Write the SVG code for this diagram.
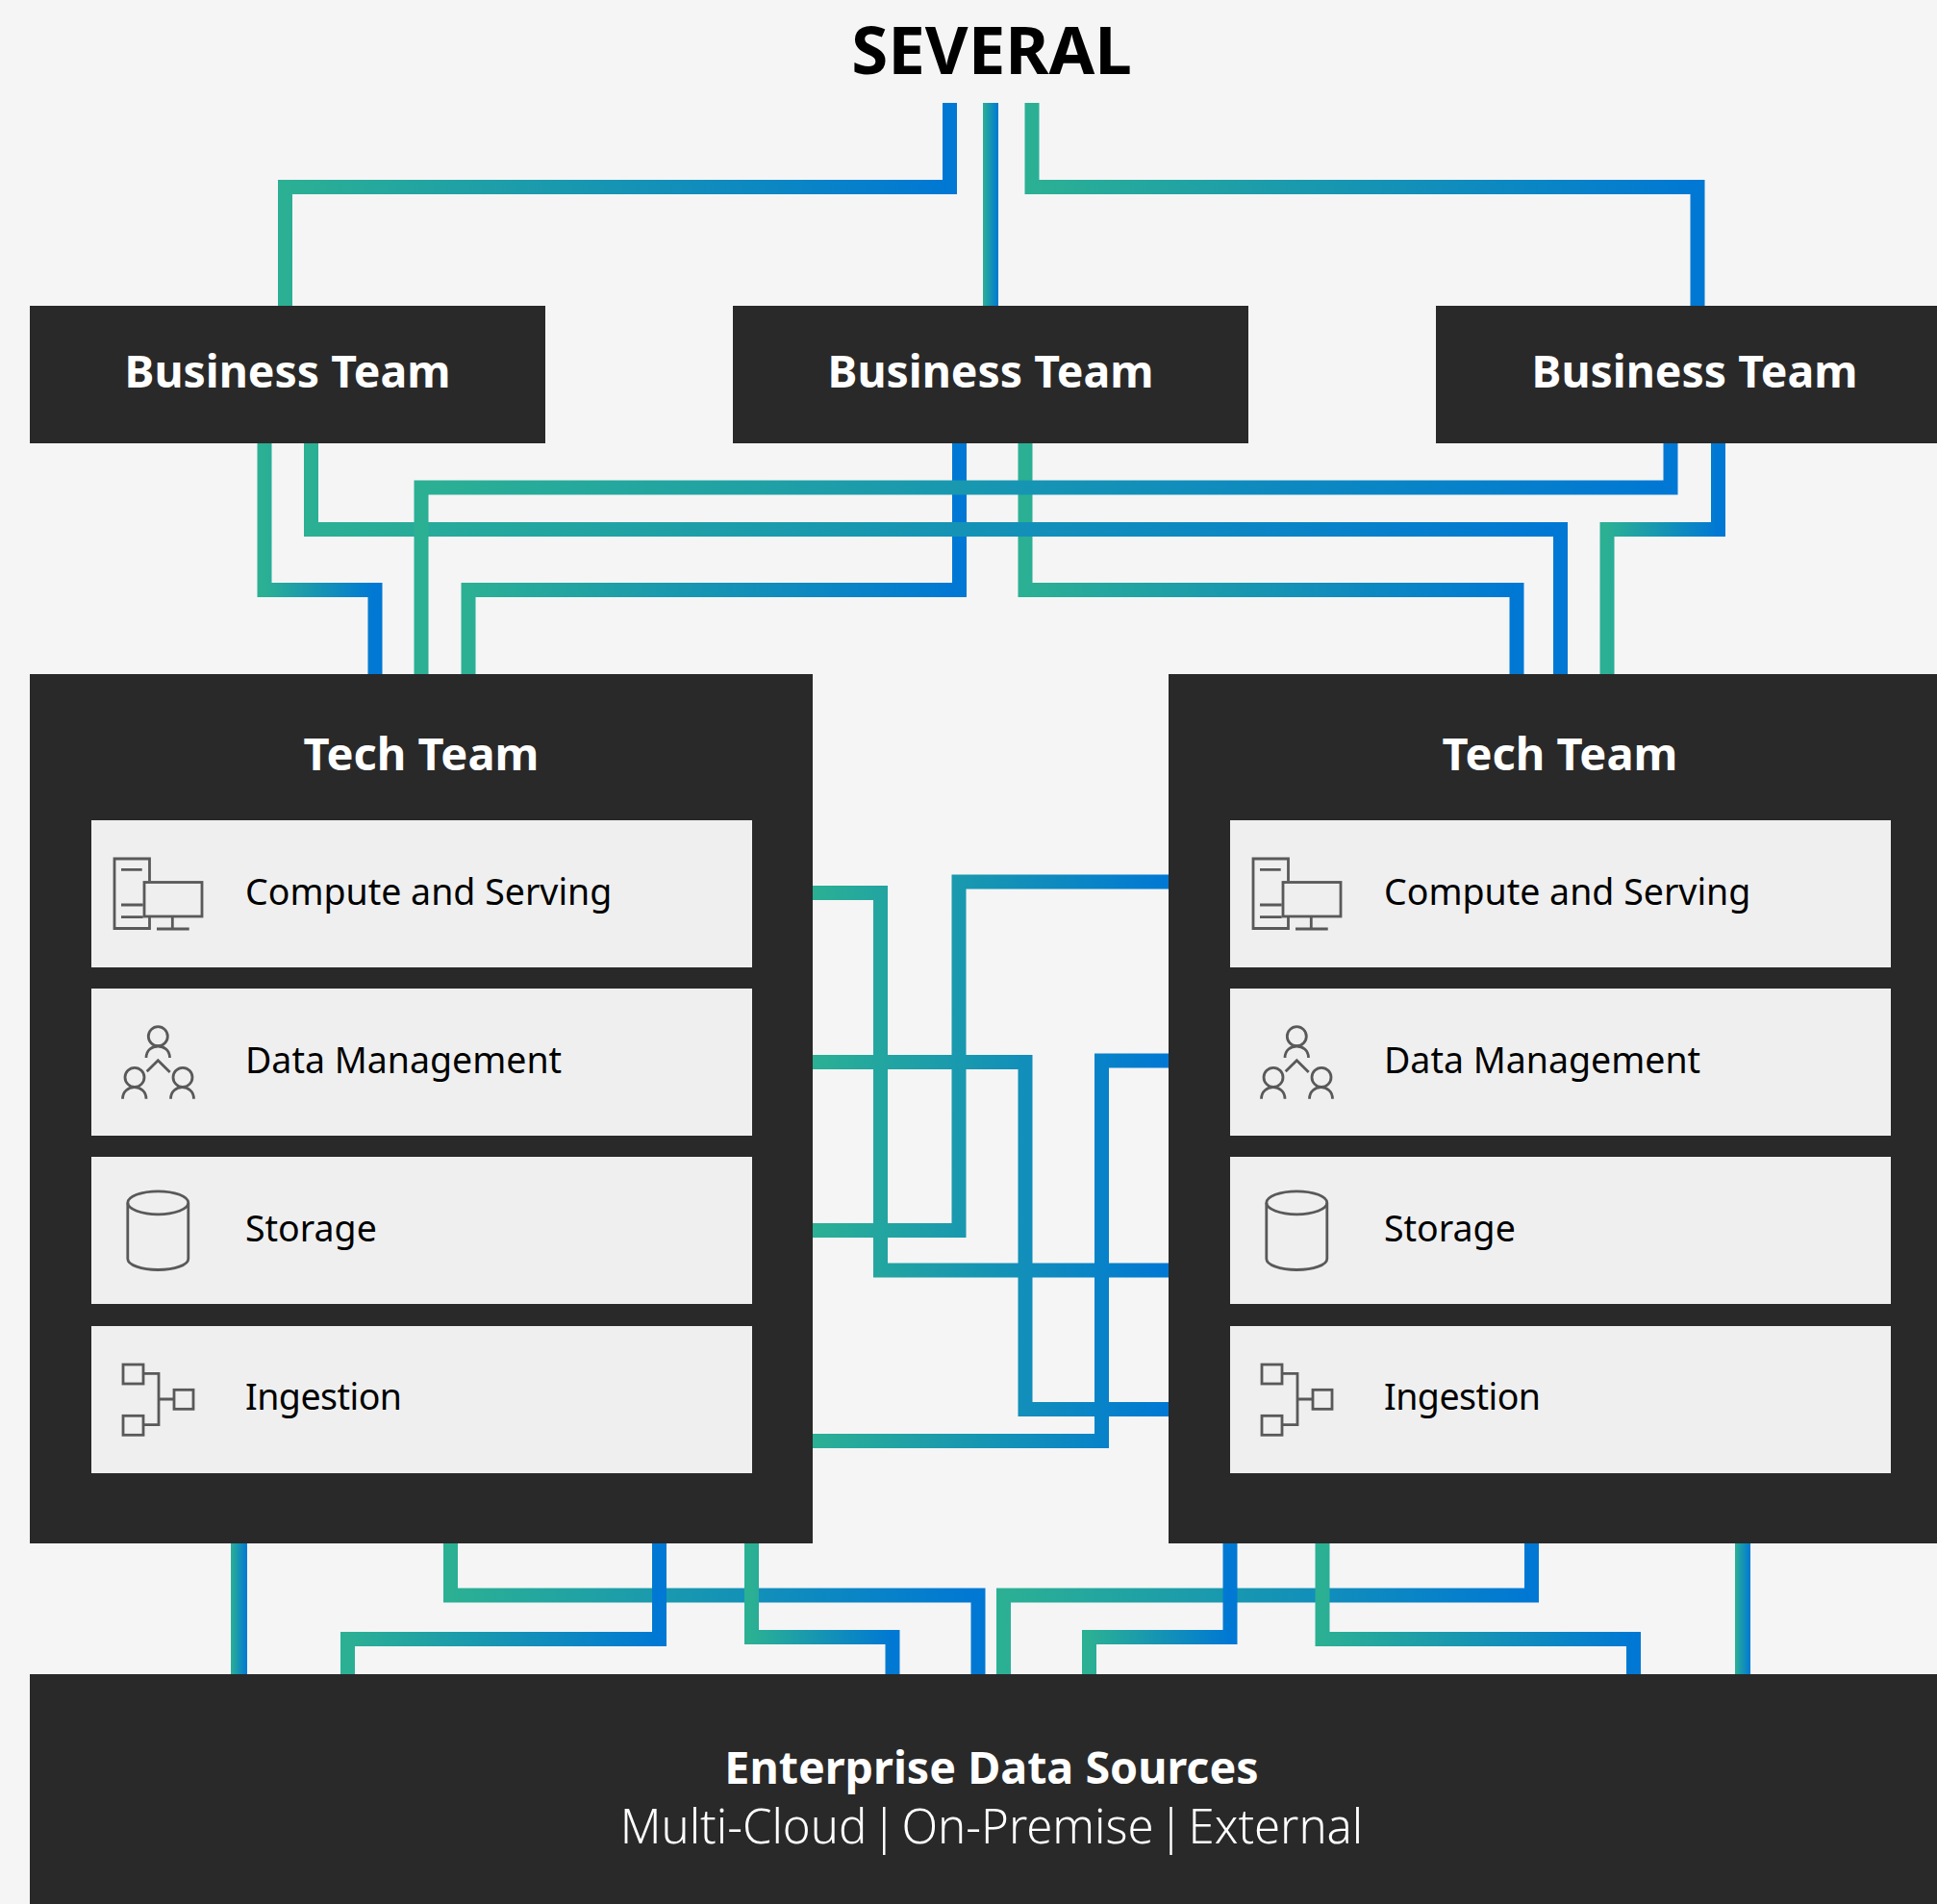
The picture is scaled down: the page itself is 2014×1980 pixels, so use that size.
<svg xmlns="http://www.w3.org/2000/svg" width="2014" height="1980" viewBox="0 0 2014 1980">
<defs>
<style>
.bg{fill:#f5f5f5}
.box{fill:#292929}
.row{fill:#efefef}
.c{fill:none;stroke:url(#g);stroke-width:15;stroke-linejoin:miter}
.s{fill:url(#g)}
.i{fill:none;stroke:#595959;stroke-width:2.8}
text{font-family:"Noto Sans","Open Sans","Liberation Sans",sans-serif}
.t1{font-size:69px;font-weight:700;fill:#000;text-anchor:middle}
.t2{font-size:46.4px;font-weight:700;fill:#fff;text-anchor:middle}
.t3{font-size:37.5px;font-weight:400;fill:#000}
.t4{font-size:49px;font-weight:300;fill:#fff;text-anchor:middle;word-spacing:-8px}
</style>
<linearGradient id="g" x1="0" y1="0" x2="1" y2="0"><stop offset="0" stop-color="#2bb094"/><stop offset="1" stop-color="#0078d4"/></linearGradient>
<g id="ic1" class="i">
<path d="M155.5 916V893H119V965.5H155.5V954"/>
<rect x="150" y="917.5" width="60" height="35.5"/>
<path d="M179.3 954V966M163 966H196.7M126 904.3H147.7M126 941H148.7M126 953.7H148.7"/>
</g>
<g id="ic2" class="i">
<circle cx="164.3" cy="1077.7" r="10"/>
<path d="M152 1100C152 1084 176.5 1084 176.5 1100"/>
<circle cx="140" cy="1120.3" r="10"/>
<path d="M127.5 1142.7C127.5 1126.7 152 1126.7 152 1142.7"/>
<circle cx="190" cy="1120.3" r="10"/>
<path d="M177.5 1142.7C177.5 1126.7 201.5 1126.7 201.5 1142.7"/>
<path d="M152.7 1114.3L164.3 1102.7L176.7 1115"/>
</g>
<g id="ic3" class="i">
<ellipse cx="164.3" cy="1250.8" rx="31.5" ry="12"/>
<path d="M132.8 1251V1309C132.8 1315.5 147 1320.5 164.3 1320.5S195.8 1315.5 195.8 1309V1251"/>
</g>
<g id="ic4" class="i">
<rect x="128" y="1419" width="21" height="20"/>
<rect x="128" y="1472.3" width="21" height="20"/>
<rect x="181" y="1445.3" width="20" height="20"/>
<path d="M150 1428.3H165V1481.7H150M165 1455H180"/>
</g>
</defs>
<rect class="bg" width="2014" height="1980"/>
<text class="t1" x="1031" y="77">SEVERAL</text>
<g id="connectors">
<path class="c" d="M987.5 107V194.5H296.5V318"/>
<rect class="s" x="1022" y="107" width="16" height="211"/>
<path class="c" d="M1073 107V194.5H1765V318"/>
<path class="c" d="M275 461V613.5H390V701"/>
<path class="c" d="M997.5 461V613.5H487V701"/>
<path class="c" d="M1066 461V613.5H1577V701"/>
<path class="c" d="M323.5 461V550.5H1622.5V701"/>
<path class="c" d="M1737 461V507H438V701"/>
<path class="c" d="M1786.5 461V550.5H1671V701"/>
<path class="c" d="M845 928.5H915.5V1321H1215"/>
<path class="c" d="M845 1104.5H1066V1465.5H1215"/>
<path class="c" d="M845 1279.5H997V917H1215"/>
<path class="c" d="M845 1498.5H1145.5V1103H1215"/>
<path class="c" d="M468.5 1605V1659H1017V1741"/>
<path class="c" d="M1043.5 1741V1659H1592.5V1605"/>
<rect class="s" x="240" y="1605" width="17" height="136"/>
<path class="c" d="M685.5 1605V1704.5H361.5V1741"/>
<path class="c" d="M781.5 1605V1702.5H928V1741"/>
<path class="c" d="M1279 1605V1702.5H1132.5V1741"/>
<path class="c" d="M1375 1605V1704.5H1698.5V1741"/>
<rect class="s" x="1804" y="1605" width="16" height="136"/>
</g>
<g id="business-1"><rect class="box" x="31" y="318" width="536" height="143"/><text class="t2" x="299" y="403">Business Team</text></g>
<g id="business-2"><rect class="box" x="762" y="318" width="536" height="143"/><text class="t2" x="1030" y="403">Business Team</text></g>
<g id="business-3"><rect class="box" x="1493" y="318" width="521" height="143"/><text class="t2" x="1762" y="403">Business Team</text></g>
<g id="tech-1">
<rect class="box" x="31" y="701" width="814" height="904"/>
<text class="t2" x="438" y="801" style="font-size:47px">Tech Team</text>
<g id="t1-compute"><rect class="row" x="95" y="853" width="687" height="153"/><use href="#ic1"/><text class="t3" x="255" y="941">Compute and Serving</text></g>
<g id="t1-data"><rect class="row" x="95" y="1028" width="687" height="153"/><use href="#ic2"/><text class="t3" x="255" y="1116">Data Management</text></g>
<g id="t1-storage"><rect class="row" x="95" y="1203" width="687" height="153"/><use href="#ic3"/><text class="t3" x="255" y="1291">Storage</text></g>
<g id="t1-ingestion"><rect class="row" x="95" y="1379" width="687" height="153"/><use href="#ic4"/><text class="t3" x="255" y="1466" textLength="163">Ingestion</text></g>
</g>
<g id="tech-2">
<rect class="box" x="1215" y="701" width="799" height="904"/>
<text class="t2" x="1622" y="801" style="font-size:47px">Tech Team</text>
<g id="t2-compute"><rect class="row" x="1279" y="853" width="687" height="153"/><use href="#ic1" x="1184"/><text class="t3" x="1439" y="941">Compute and Serving</text></g>
<g id="t2-data"><rect class="row" x="1279" y="1028" width="687" height="153"/><use href="#ic2" x="1184"/><text class="t3" x="1439" y="1116">Data Management</text></g>
<g id="t2-storage"><rect class="row" x="1279" y="1203" width="687" height="153"/><use href="#ic3" x="1184"/><text class="t3" x="1439" y="1291">Storage</text></g>
<g id="t2-ingestion"><rect class="row" x="1279" y="1379" width="687" height="153"/><use href="#ic4" x="1184"/><text class="t3" x="1439" y="1466" textLength="163">Ingestion</text></g>
</g>
<g id="enterprise">
<rect class="box" x="31" y="1741" width="1983" height="239"/>
<text class="t2" x="1031" y="1855" style="font-size:46.6px">Enterprise Data Sources</text>
<text class="t4" x="1031" y="1917">Multi-Cloud | On-Premise | External</text>
</g>
</svg>
